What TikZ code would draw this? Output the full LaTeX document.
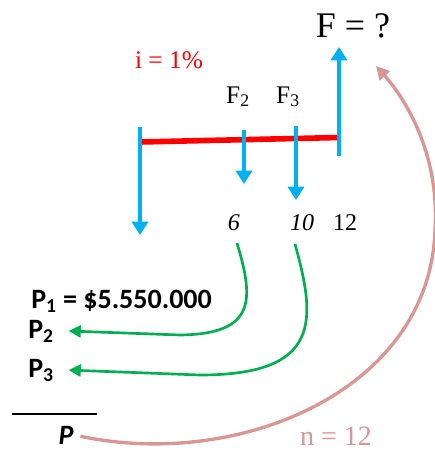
\documentclass[tikz,border=0pt]{standalone}
\usepackage{fontspec}
\setmainfont{Liberation Serif}
\newfontfamily\calibri{Carlito}
\usetikzlibrary{arrows.meta}
\definecolor{flowBlue}{RGB}{0, 176, 240}
\definecolor{lineRed}{RGB}{255, 0, 0}
\definecolor{pathGreen}{RGB}{0, 176, 80}
\definecolor{arcPink}{RGB}{217, 150, 148}

\begin{document}
\begin{tikzpicture}[x=0.75pt, y=-0.75pt,
    flow/.style={flowBlue, line width=2.4pt, -{Triangle[width=12pt,length=10pt]}},
    back/.style={pathGreen, line width=2pt, -{Triangle[width=9pt,length=9pt]}},
    plabel/.style={font=\calibri\bfseries\fontsize{21}{24}\selectfont, anchor=base west, inner sep=0pt},
    tick/.style={font=\fontsize{18}{22}\selectfont, anchor=base, inner sep=0pt}]
      \useasboundingbox (0,0) rectangle (435,451);

      % time line with the rate
      \draw[lineRed, line width=4.2pt] (140,142) -- (339,137.5);
      \node[lineRed, font=\fontsize{19}{22}\selectfont, anchor=base, inner sep=0pt] (rate) at (169,68) {i = 1\%};

      % cash flows: P down at 0, F2 and F3 down, F up at 12
      \draw[flow] (140,127) -- (140,235);
      \draw[flow] (244,130) -- (244,184);
      \draw[flow] (296,126) -- (296,200);
      \draw[flow] (339,156) -- (339,47);

      \node[font=\fontsize{27}{30}\selectfont, anchor=base, inner sep=0pt] (feq) at (353,37) {F = ?};
      \node[font=\fontsize{19}{22}\selectfont, anchor=base, inner sep=0pt] (f2lab) at (238,103) {F\textsubscript{2}};
      \node[font=\fontsize{19}{22}\selectfont, anchor=base, inner sep=0pt] (f3lab) at (288,103) {F\textsubscript{3}};

      % periods
      \node[tick] (t6) at (234,230) {\itshape 6};
      \node[tick] (t10) at (302,230) {\itshape 10};
      \node[tick] (t12) at (345,230) {12};

      % present values
      \node[plabel] (p1) at (31,308) {P\textsubscript{1} = \$5.550.000};
      \node[plabel] (p2) at (28,338) {P\textsubscript{2}};
      \node[plabel] (p3) at (28,377) {P\textsubscript{3}};
      \draw[line width=0.8pt] (12,414) -- (97,414);
      \node[font=\calibri\bfseries\itshape\fontsize{21}{24}\selectfont, anchor=base, inner sep=0pt] (ptot) at (66,444) {P};

      % moving F2 and F3 back to 0
      \coordinate (g6) at (237,243);
      \coordinate (g10) at (295,244);
      \draw[back] (g6) .. controls (254,300) and (256,334) .. (180,335) -- ([xshift=11pt]p2.east);
      \draw[back] (g10) .. controls (316,320) and (322,375) .. (200,375) -- ([xshift=11pt]p3.east);

      % moving P forward to 12
      \draw[arcPink, line width=2.5pt, -{Triangle[width=10pt,length=10pt]}]
        ([xshift=5pt,yshift=-1pt]ptot.east) .. controls (240,470) and (430,390) .. (435,230)
        .. controls (440,150) and (402,95) .. (376,66);
      \node[arcPink, font=\fontsize{21}{24}\selectfont, anchor=base, inner sep=0pt] (nlab) at (336,445) {n = 12};
\end{tikzpicture}
\end{document}
